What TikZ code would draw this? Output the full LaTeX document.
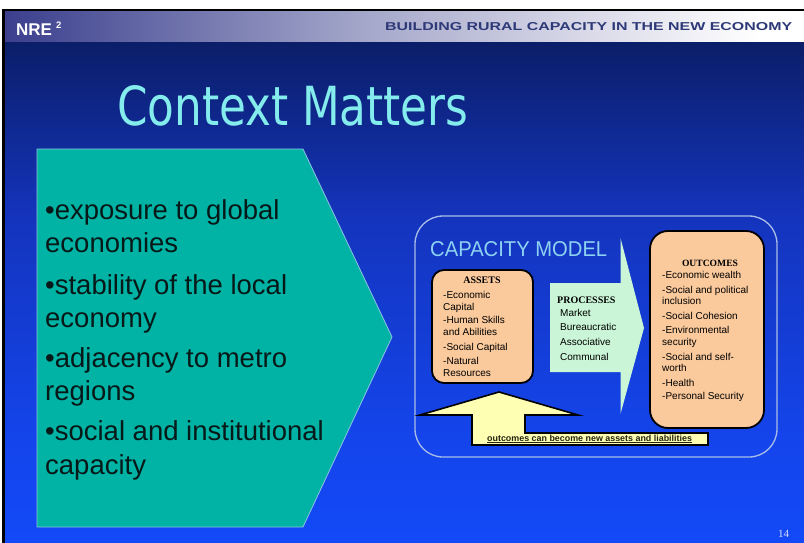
\documentclass[tikz,border=0pt]{standalone}
\usepackage{fontspec}
\usepackage{graphicx}
\setmainfont{Liberation Sans}
\newfontfamily\serifb{Liberation Serif}
\newfontfamily\titlef{DejaVu Sans Condensed}
\definecolor{bgT}{HTML}{0B1E68}
\definecolor{bgM}{HTML}{1434BD}
\definecolor{bgL}{HTML}{1445EC}
\definecolor{bgB}{HTML}{1349F8}
\definecolor{hdA}{HTML}{3B3F8E}
\definecolor{hdB}{HTML}{A3A6C9}
\definecolor{hdC}{HTML}{DCDCEA}
\definecolor{hdtxt}{HTML}{2E3A78}
\definecolor{titlec}{HTML}{84ECEC}
\definecolor{tealc}{HTML}{00B3A4}
\definecolor{tealedge}{HTML}{8CC4E4}
\definecolor{bultxt}{HTML}{071818}
\definecolor{framec}{HTML}{A9BDE8}
\definecolor{capc}{HTML}{8ED2F2}
\definecolor{peachc}{HTML}{FAC99C}
\definecolor{procc}{HTML}{CAF5D6}
\definecolor{yelc}{HTML}{FFFFB4}
\definecolor{captc}{HTML}{22220E}
\definecolor{numc}{HTML}{D8E0FF}
\pgfdeclareverticalshading{bgsh}{100bp}{color(0bp)=(bgB); color(25bp)=(bgB); color(35bp)=(bgL); color(57.5bp)=(bgM); color(75bp)=(bgT); color(100bp)=(bgT)}
\pgfdeclarehorizontalshading{hdrsh}{100bp}{color(0bp)=(hdA); color(25bp)=(hdA); color(47.2bp)=(hdB); color(62.2bp)=(hdC); color(72.2bp)=(white); color(100bp)=(white)}
\begin{document}
\begin{tikzpicture}[x=1pt,y=-1pt,
  bul/.style={inner sep=0pt, anchor=base west, font=\fontsize{27.5}{30}\selectfont, text=bultxt},
  small/.style={inner sep=0pt, anchor=base west, font=\fontsize{10}{11}\selectfont, text=black},
  hd/.style={inner sep=0pt, anchor=base, font=\serifb\bfseries\fontsize{10}{11}\selectfont, text=black},
  peach/.style={fill=peachc, draw=black, line width=1.8pt},
]
\useasboundingbox (0,0) rectangle (804,543);
\fill[white] (0,0) rectangle (804,543);
\shade[shading=bgsh] (5,42) rectangle (804,543);
\shade[shading=hdrsh] (5,11) rectangle (804,42);
\fill[black] (3,9) rectangle (804,11.5);
\fill[black] (2,9) rectangle (5,543);

\node[inner sep=0pt, anchor=base west, text=white, font=\bfseries\fontsize{17}{17}\selectfont] (nre) at (16,36) {NRE\hspace{4pt}\raisebox{7pt}{\fontsize{9.5}{9.5}\selectfont 2}};
\node[inner sep=0pt, anchor=base west, text=hdtxt, font=\bfseries] (bld) at (385,31) {\resizebox{407pt}{8pt}{BUILDING RURAL CAPACITY IN THE NEW ECONOMY}};
\node[inner sep=0pt, anchor=base west, text=titlec, font=\titlef] (title) at (117,125) {\resizebox{351pt}{40pt}{Context Matters}};

% context pentagon
\draw[fill=tealc, draw=tealedge, line width=0.8pt] (37,149) -- (303,149) -- (392,337) -- (303,527) -- (37,527) -- cycle;
\node[bul] (b1) at (45,219) {•exposure to global};
\node[bul] (b2) at (45,252) {economies};
\node[bul] (b3) at (45,294) {•stability of the local};
\node[bul] (b4) at (45,327) {economy};
\node[bul] (b5) at (45,367) {•adjacency to metro};
\node[bul] (b6) at (45,400) {regions};
\node[bul] (b7) at (45,440) {•social and institutional};
\node[bul] (b8) at (45,474) {capacity};

% capacity model frame
\draw[framec, line width=1.3pt, rounded corners=28pt] (415,216) rectangle (777,457);
\node[inner sep=0pt, anchor=base west, text=capc] (cm) at (430,256.5) {\resizebox{177pt}{15pt}{CAPACITY MODEL}};

% assets
\draw[peach, rounded corners=12pt] (432,270) rectangle (533,383);
\node[hd] (ah) at (482,283) {ASSETS};
\foreach \t/\y [count=\i] in {-Economic/298, Capital/310, -Human Skills/323, and Abilities/335, -Social Capital/350, -Natural/364, Resources/376}
  \node[small] (a\i) at (443,\y) {\t};

% processes arrow
\fill[procc] (550,283) -- (620.5,283) -- (620.5,238) -- (644,328) -- (620.5,414) -- (620.5,372) -- (550,372) -- cycle;
\node[hd, anchor=base west] (ph) at (557,303) {PROCESSES};
\foreach \t/\y [count=\i] in {Market/316.5, Bureaucratic/330.5, Associative/345.5, Communal/360.5}
  \node[small] (p\i) at (560,\y) {\t};

% outcomes
\draw[peach, rounded corners=18pt] (650,231) rectangle (764,428);
\node[hd, font=\serifb\bfseries\fontsize{9.6}{11}\selectfont] (oh) at (710,266) {OUTCOMES};
\foreach \t/\y [count=\i] in {-Economic wealth/278, -Social and political/293, inclusion/304, -Social Cohesion/319, -Environmental/333, security/345, -Social and self-/360, worth/371, -Health/386, -Personal Security/399}
  \node[small] (o\i) at (662,\y) {\t};

% feedback arrow
\draw[fill=yelc, line width=1.6pt, line join=miter] (472,445) -- (708,445) -- (708,433) -- (525,433) -- (525,415) -- (578,415) -- (499,392) -- (420,415) -- (472,415) -- cycle;
\node[inner sep=0pt, anchor=base west, font=\bfseries\fontsize{8.9}{9}\selectfont, text=captc] (fb) at (487,441) {\underline{outcomes can become new assets and liabilities}};

\node[inner sep=0pt, anchor=base west, font=\serifb\fontsize{11}{11}\selectfont, text=numc] (pg) at (778,537) {14};
\end{tikzpicture}
\end{document}
